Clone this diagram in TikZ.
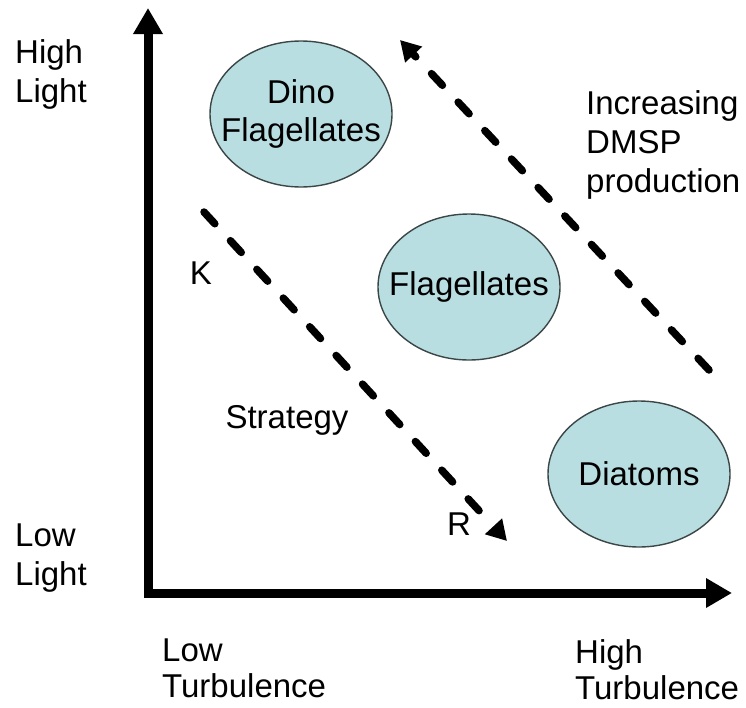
\documentclass[tikz,border=0pt]{standalone}
\usepackage{fontspec}
\setmainfont{Liberation Sans}
\usetikzlibrary{arrows.meta,shapes.geometric}
\definecolor{ellfill}{RGB}{184,222,226}
\definecolor{ellline}{RGB}{60,70,70}
\begin{document}
\begin{tikzpicture}[x=1pt,y=-1pt,
  lbl/.style={font=\fontsize{33}{39}\selectfont,inner sep=0pt,align=left,anchor=north west},
  single/.style={font=\fontsize{33}{39}\selectfont,inner sep=0pt},
  blob/.style={ellipse,draw=ellline,line width=1.4pt,fill=ellfill,inner xsep=-26pt,inner ysep=0pt,
    minimum width=182pt,minimum height=146pt,align=center,font=\fontsize{33}{38}\selectfont},
  axis/.style={line width=9pt,line join=miter,{Triangle[length=26pt,width=28pt]}-{Triangle[length=26pt,width=28pt]}},
  dasharrow/.style={line width=7.5pt,line cap=round,dash pattern=on 16pt off 23pt,
    -{Triangle[length=20pt,width=22pt]}}]
\useasboundingbox (0,0) rectangle (746,707);
% axes
\coordinate (ytip) at (148,8);
\coordinate (origin) at (148,593);
\coordinate (xtip) at (732,593);
\draw[axis] (ytip) -- (origin) -- (xtip);
% ellipses
\node[blob] (dino) at (301,114) {Dino\\Flagellates};
\node[blob] (flag) at (469,287) {Flagellates};
\node[blob] (diat) at (639,474) {Diatoms};
% dashed arrows
\coordinate (ks) at (204,212);
\coordinate (re) at (507,541);
\draw[dasharrow] (ks) -- (re);
\coordinate (ds) at (709,370);
\coordinate (de) at (400,40);
\draw[dasharrow] (ds) -- (de);
% labels
\node[lbl] (hl) at (15,39) {High\\Light};
\node[lbl] (ll) at (15,524) {Low\\Light};
\node[lbl,font=\fontsize{33}{36}\selectfont] (lt) at (162,639) {Low\\Turbulence};
\node[lbl,font=\fontsize{33}{36}\selectfont] (ht) at (575,639) {High\\Turbulence};
\node[lbl] (dmsp) at (586,90) {Increasing\\DMSP\\production};
\node[single] (k) at (201,273) {K};
\node[single] (strat) at (287,420) {Strategy};
\node[single] (r) at (459,524) {R};
\end{tikzpicture}
\end{document}
